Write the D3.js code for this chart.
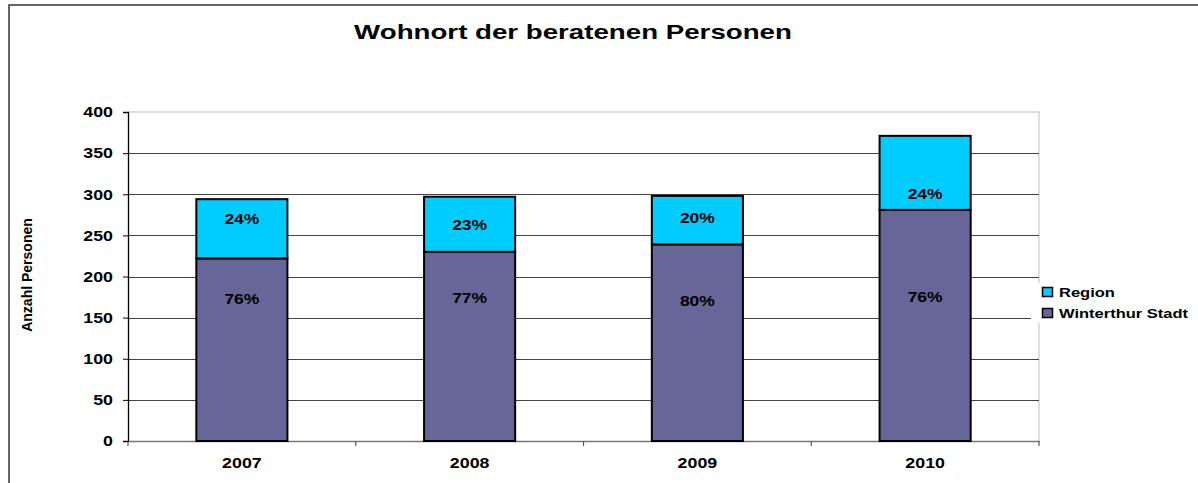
<!DOCTYPE html>
<html>
<head>
<meta charset="utf-8">
<script src="https://cdn.jsdelivr.net/npm/d3@7"></script>
<style>
  html, body { margin: 0; padding: 0; background: #fff; }
  svg { display: block; font-family: "Liberation Sans", Arial, sans-serif; }
</style>
</head>
<body>
<svg id="chart" width="1198" height="483"></svg>
<script>
// ---- data ----
const years = ["2007", "2008", "2009", "2010"];
const winterthur = [222, 230, 239, 281];
const region = [72, 67, 59, 90];
const winterthurPct = ["76%", "77%", "80%", "76%"];
const regionPct = ["24%", "23%", "20%", "24%"];
// value (in Personen) at which each percentage label sits, as in the original
const winterthurLabelAt = [173, 174, 170, 175];
const regionLabelAt = [270, 263, 271, 300];
const yTicks = [0, 50, 100, 150, 200, 250, 300, 350, 400];
const seriesNames = ["Region", "Winterthur Stadt"];
const seriesColors = ["#00CCFF", "#666699"];
const titleText = "Wohnort der beratenen Personen";
const yLabelText = "Anzahl Personen";

// ---- layout ----
const svg = d3.select("#chart");
const plot = { left: 128, right: 1039, top: 112, bottom: 441 };

const x = d3.scaleBand().domain(years).range([plot.left, plot.right])
  .paddingInner(0.6).paddingOuter(0.3);
const xCat = d3.scaleBand().domain(years).range([plot.left, plot.right]).padding(0);
const y = d3.scaleLinear().domain([0, 400]).range([plot.bottom, plot.top]);

// outer frame
svg.append("rect").attr("x", 9).attr("y", 5).attr("width", 1300).attr("height", 600)
  .attr("fill", "none").attr("stroke", "#333").attr("stroke-width", 1.5);

// stretched text helper
function stext(g, x0, y0, str, size, sx, anchor, baseline) {
  return g.append("text")
    .attr("transform", `translate(${x0},${y0}) scale(${sx},1)`)
    .attr("text-anchor", anchor || "middle")
    .attr("dominant-baseline", baseline || "auto")
    .attr("font-size", size).attr("font-weight", "bold").attr("fill", "#000")
    .text(str);
}

// title
stext(svg, 573, 39, titleText, 19.5, 1.42, "middle");

// plot border (top / right)
svg.append("path")
  .attr("d", `M${plot.left},${plot.top}H${plot.right}V${plot.bottom}`)
  .attr("fill", "none").attr("stroke", "#d4d4d4").attr("stroke-width", 1.5);

// gridlines
svg.append("g").selectAll("line").data(yTicks.filter(d => d > 0 && d < 400)).join("line")
  .attr("x1", plot.left).attr("x2", plot.right)
  .attr("y1", d => Math.round(y(d)) + 0.5).attr("y2", d => Math.round(y(d)) + 0.5)
  .attr("stroke", "#444").attr("stroke-width", 1);

// y axis
const yAxis = d3.axisLeft(y).tickValues(yTicks).tickSize(5).tickFormat(d => d);
const yg = svg.append("g").attr("transform", `translate(${plot.left},0)`).call(yAxis);
yg.select(".domain").attr("stroke", "#000").attr("stroke-width", 1.3);
yg.selectAll(".tick line").attr("stroke", "#000");
yg.selectAll(".tick text").remove();
yg.selectAll(".tick").each(function(d) {
  stext(d3.select(this), -15, 0, d, 14, 1.27, "end", "central");
});

// x axis
const xAxis = d3.axisBottom(xCat).tickSize(0).tickFormat(d => d);
const xg = svg.append("g").attr("transform", `translate(0,${plot.bottom})`).call(xAxis);
xg.select(".domain").attr("stroke", "#777").attr("stroke-width", 1.5);
xg.selectAll(".tick text").remove();
xg.selectAll(".tick").each(function(d) {
  stext(d3.select(this), 0, 27, d, 14, 1.27, "middle");
});
// category boundary ticks
const bounds = years.map(d => xCat(d)).concat([plot.right]);
svg.append("g").selectAll("line").data(bounds).join("line")
  .attr("x1", d => d).attr("x2", d => d)
  .attr("y1", plot.bottom).attr("y2", plot.bottom + 5)
  .attr("stroke", "#555").attr("stroke-width", 1.2);

// y label
svg.append("text")
  .attr("transform", `translate(27,275) rotate(-90)`)
  .attr("text-anchor", "middle").attr("dominant-baseline", "central")
  .attr("font-size", 14).attr("font-weight", "bold")
  .text(yLabelText);

// bars
const barsG = svg.append("g");
years.forEach((yr, i) => {
  const bx = x(yr), bw = x.bandwidth();
  barsG.append("rect")
    .attr("x", bx).attr("width", bw)
    .attr("y", y(winterthur[i])).attr("height", y(0) - y(winterthur[i]))
    .attr("fill", seriesColors[1]).attr("stroke", "#000").attr("stroke-width", 2);
  barsG.append("rect")
    .attr("x", bx).attr("width", bw)
    .attr("y", y(winterthur[i] + region[i])).attr("height", y(winterthur[i]) - y(winterthur[i] + region[i]))
    .attr("fill", seriesColors[0]).attr("stroke", "#000").attr("stroke-width", 2);
  stext(barsG, bx + bw / 2, y(winterthurLabelAt[i]), winterthurPct[i], 14, 1.25, "middle", "central");
  stext(barsG, bx + bw / 2, y(regionLabelAt[i]), regionPct[i], 14, 1.25, "middle", "central");
});

// legend
const lg = svg.append("g");
lg.append("rect").attr("x", 1031).attr("y", 283).attr("width", 162).attr("height", 40).attr("fill", "#fff");
seriesNames.forEach((name, i) => {
  const yy = 287 + i * 21;
  lg.append("rect").attr("x", 1042.5).attr("y", yy + 0.5).attr("width", 10).attr("height", 9)
    .attr("fill", seriesColors[i]).attr("stroke", "#000").attr("stroke-width", 1.5);
  stext(lg, 1059, yy + 10, name, 13, 1.27, "start");
});
</script>
</body>
</html>
